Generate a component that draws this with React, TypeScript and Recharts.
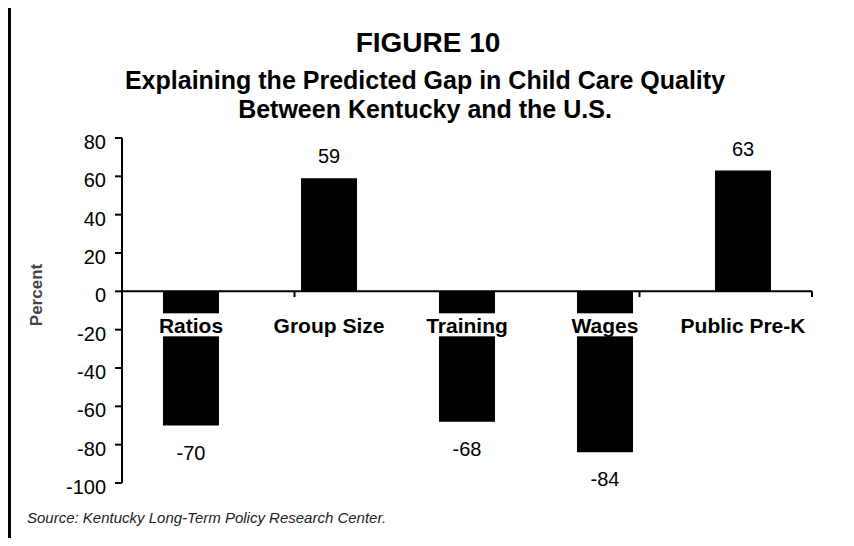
import React from 'react';
import { BarChart, Bar, XAxis, YAxis, ReferenceLine, LabelList } from 'recharts';

const categories = ['Ratios', 'Group Size', 'Training', 'Wages', 'Public Pre-K'];
const gapValues = [-70, 59, -68, -84, 63];
const yTicks = [-100, -80, -60, -40, -20, 0, 20, 40, 60, 80];
const categoryEdges = [1, 2, 3, 4, 5];

const data = categories.map((name, i) => ({ name, value: gapValues[i] }));

const FONT = '"Liberation Sans", Arial, Helvetica, sans-serif';

let measureCtx: CanvasRenderingContext2D | null = null;
const textWidth = (text: string, font: string) => {
  if (!measureCtx) measureCtx = document.createElement('canvas').getContext('2d');
  if (!measureCtx) return text.length * 11;
  measureCtx.font = font;
  return measureCtx.measureText(text).width;
};

// bar geometry -> zero line, top and bottom (works whether height is signed or not)
const barBox = (props: any) => {
  const vb = props.viewBox || props;
  const x = Number(vb.x);
  const y = Number(vb.y);
  const w = Number(vb.width);
  const h = Number(vb.height);
  const top = Math.min(y, y + h);
  const bottom = Math.max(y, y + h);
  return { cx: x + w / 2, top, bottom };
};

const CategoryLabel = (props: any) => {
  const { index, value } = props;
  const { cx, top, bottom } = barBox(props);
  const zeroY = gapValues[index] >= 0 ? bottom : top;
  const font = `bold 21px ${FONT}`;
  const w = textWidth(String(value), font);
  return (
    <g>
      <rect x={cx - w / 2 - 2} y={zeroY + 22} width={w + 4} height={23} fill="#fff" />
      <text x={cx} y={zeroY + 42} textAnchor="middle" fontFamily={FONT} fontWeight="bold" fontSize={21} fill="#000">
        {value}
      </text>
    </g>
  );
};

const ValueLabel = (props: any) => {
  const { value } = props;
  const { cx, top, bottom } = barBox(props);
  const y = value >= 0 ? top - 15 : bottom + 34;
  return (
    <text x={cx} y={y} textAnchor="middle" fontFamily={FONT} fontSize={20} fill="#000">
      {value}
    </text>
  );
};

const YTick = (props: any) => {
  const { x, y, payload } = props;
  return (
    <text x={x} y={y + 11} textAnchor="end" fontFamily={FONT} fontSize={20} fill="#000">
      {payload.value}
    </text>
  );
};

const App = () => {
  return (
    <div style={{ position: 'relative', width: 854, height: 546, margin: -8, background: '#fff', overflow: 'hidden' }}>
      <div
        style={{
          position: 'absolute',
          left: 8,
          top: 2,
          width: 843,
          height: 600,
          borderLeft: '3px solid #000',
          borderTop: '3px solid #000',
        }}
      />
      <div style={{ position: 'absolute', left: 0, top: 0 }}>
        <BarChart width={854} height={546} data={data} margin={{ top: 138, right: 42, bottom: 63, left: 62 }}>
          <XAxis dataKey="name" hide />
          <XAxis xAxisId="edge" type="number" domain={[0, 5]} allowDataOverflow hide />
          <YAxis
            domain={[-100, 80]}
            ticks={yTicks}
            interval={0}
            width={60}
            tickSize={7}
            tickMargin={9}
            axisLine={{ stroke: '#000', strokeWidth: 2 }}
            tickLine={{ stroke: '#000', strokeWidth: 2 }}
            tick={<YTick />}
            allowDataOverflow
          />
          <Bar dataKey="value" fill="#000" barSize={56} isAnimationActive={false}>
            <LabelList dataKey="value" content={<ValueLabel />} />
            <LabelList dataKey="name" content={<CategoryLabel />} />
          </Bar>
          <ReferenceLine y={0} stroke="#000" strokeWidth={2} />
          {categoryEdges.map((e) => (
            <ReferenceLine
              key={e}
              xAxisId="edge"
              segment={[{ x: e, y: 0 }, { x: e, y: -3 }]}
              stroke="#000"
              strokeWidth={2}
            />
          ))}
        </BarChart>
      </div>
      <svg width={854} height={546} style={{ position: 'absolute', left: 0, top: 0, pointerEvents: 'none' }}>
        <g fontFamily={FONT} fontWeight="bold" fill="#000" textAnchor="middle">
          <text x={428} y={52} fontSize={28}>FIGURE 10</text>
          <text x={425} y={89} fontSize={25}>Explaining the Predicted Gap in Child Care Quality</text>
          <text x={425} y={118} fontSize={25}>Between Kentucky and the U.S.</text>
        </g>
        <text
          transform="translate(42, 295) rotate(-90)"
          textAnchor="middle"
          fontFamily={FONT}
          fontWeight="bold"
          fontSize={17}
          fill="#444"
        >
          Percent
        </text>
        <text x={27} y={523} fontFamily={FONT} fontStyle="italic" fontSize={15} fill="#222">
          Source: Kentucky Long-Term Policy Research Center.
        </text>
      </svg>
    </div>
  );
};

export default App;
